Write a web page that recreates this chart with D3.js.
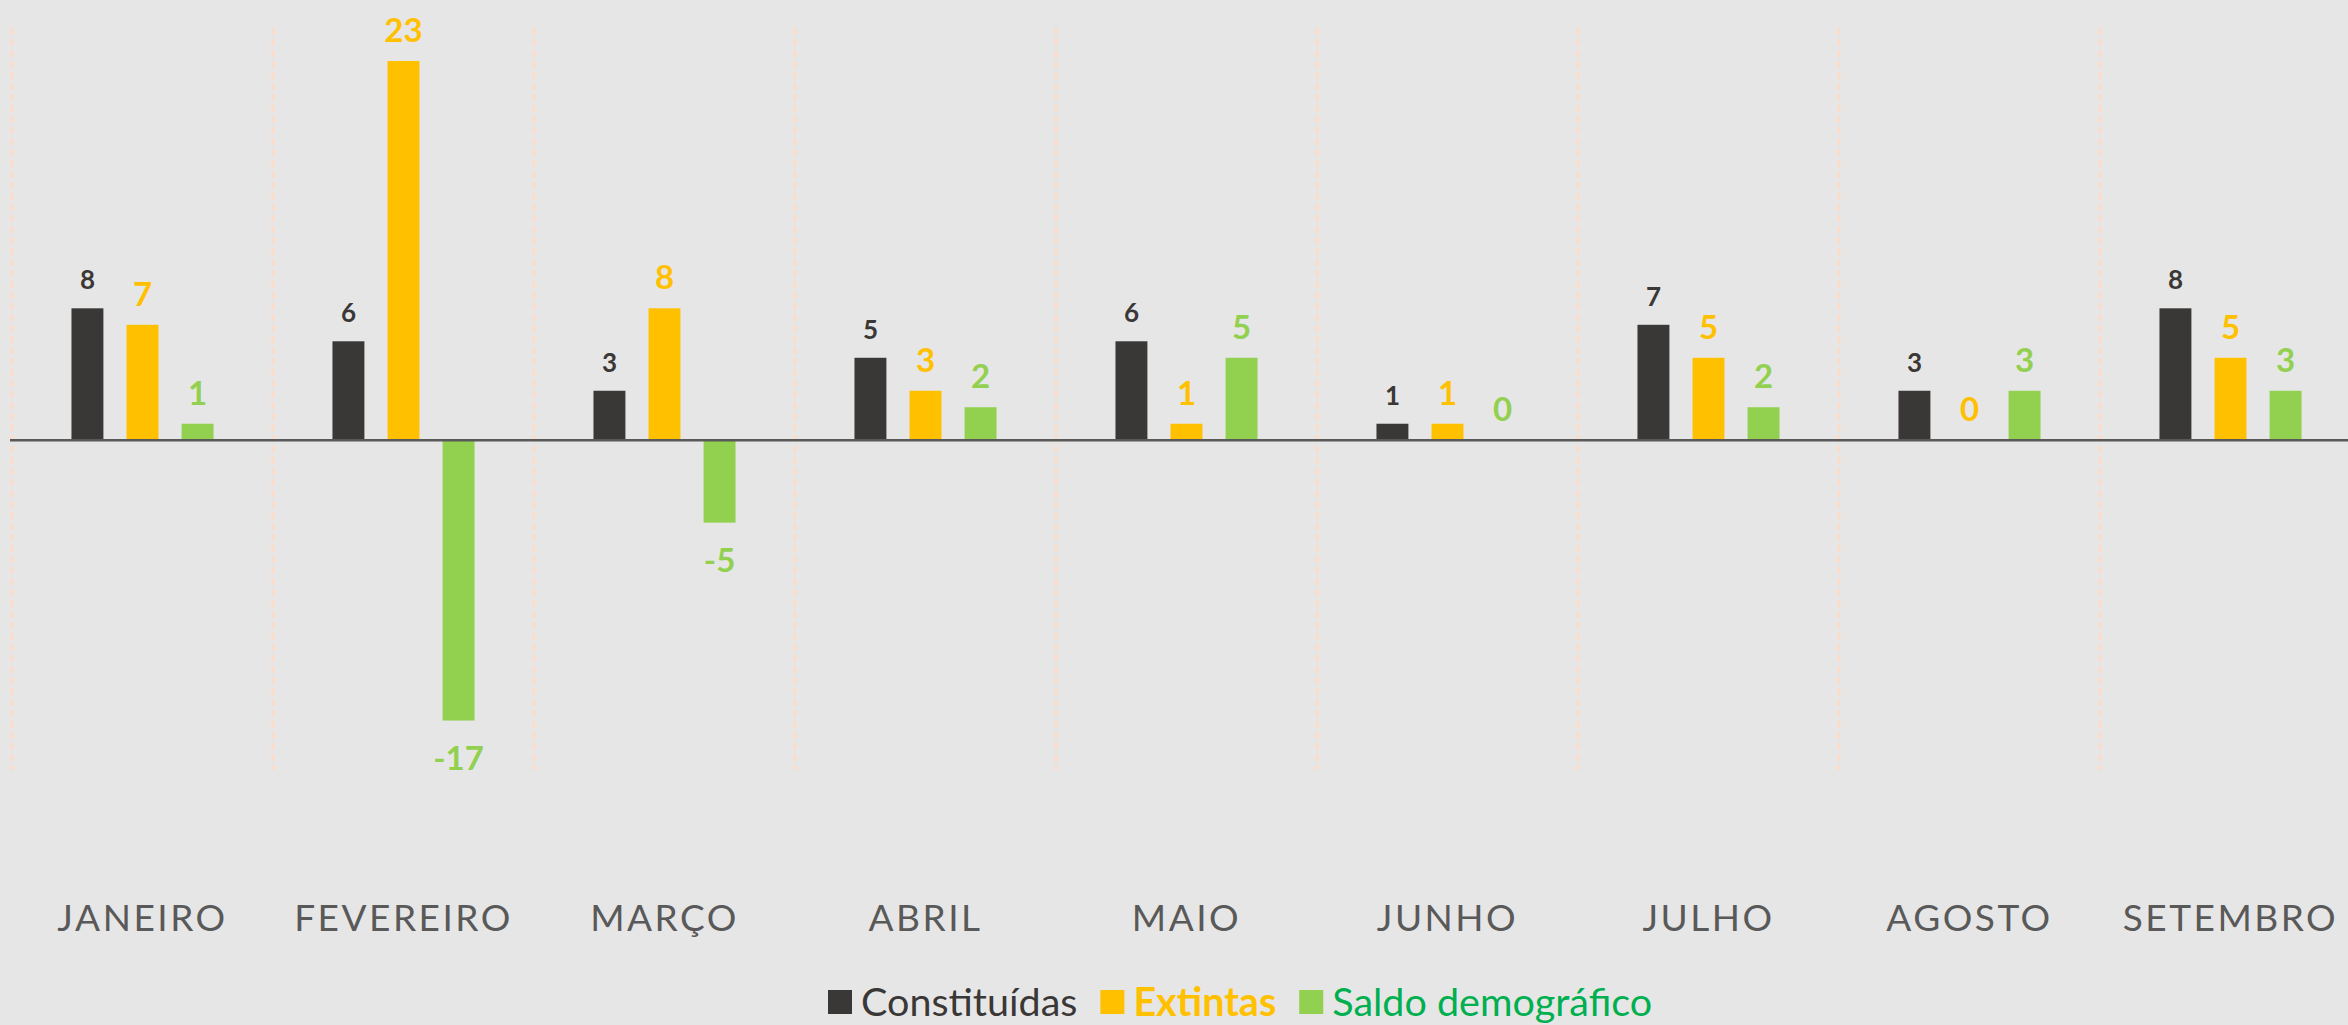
<!DOCTYPE html>
<html>
<head>
<meta charset="utf-8">
<script src="https://cdn.jsdelivr.net/npm/d3@7"></script>
<style>
  html, body { margin: 0; padding: 0; background: #e7e6e6; }
  svg { display: block; }
</style>
</head>
<body>
<svg id="chart"></svg>
<script>
const months = ['JANEIRO', 'FEVEREIRO', 'MARÇO', 'ABRIL', 'MAIO', 'JUNHO', 'JULHO', 'AGOSTO', 'SETEMBRO']
const seriesNames = ['Constituídas', 'Extintas', 'Saldo demográfico']
const constituidas = [8, 6, 3, 5, 6, 1, 7, 3, 8]
const extintas = [7, 23, 8, 3, 1, 1, 5, 0, 5]
const saldo = [1, -17, -5, 2, 5, 0, 2, 3, 3]
const yDomain = [-20, 25]

const width = 2348
const height = 1025
const svg = d3.select('#chart').attr('width', width).attr('height', height)

const colors = {
    'Constituídas': '#3a3836',
    'Extintas': '#ffc000',
    'Saldo demográfico': '#92d050'
}
const legendTextColors = {
    'Constituídas': '#3a3836',
    'Extintas': '#ffc000',
    'Saldo demográfico': '#00b050'
}

const values = [constituidas, extintas, saldo]

// plot area runs a bit past the right edge, like the original
const xScale = d3.scaleBand()
    .domain(months)
    .range([12, 12 + 261 * months.length])
    .paddingInner(0)
    .paddingOuter(0)

const xInner = d3.scaleBand()
    .domain(seriesNames)
    .range([0, xScale.bandwidth()])
    .paddingInner(0.42)
    .paddingOuter(1.08)

const yScale = d3.scaleLinear()
    .domain(yDomain)
    .range([770, 28])

// vertical dashed gridlines at category boundaries
svg.append('g')
    .selectAll('line')
    .data(months)
    .enter()
    .append('line')
    .attr('x1', d => xScale(d))
    .attr('x2', d => xScale(d))
    .attr('y1', yScale(yDomain[1]))
    .attr('y2', yScale(yDomain[0]))
    .attr('stroke', '#fbdcc8')
    .attr('stroke-width', 3)
    .attr('stroke-dasharray', '7,4')

// bars
const groups = svg.append('g')
    .selectAll('g')
    .data(seriesNames)
    .enter()
    .append('g')

groups.each(function(name, si) {
    const g = d3.select(this)
    const data = months.map((m, i) => ({month: m, value: values[si][i]}))
    g.selectAll('rect')
        .data(data)
        .enter()
        .append('rect')
        .attr('x', d => xScale(d.month) + xInner(name))
        .attr('width', xInner.bandwidth())
        .attr('y', d => yScale(Math.max(0, d.value)))
        .attr('height', d => Math.abs(yScale(d.value) - yScale(0)))
        .attr('fill', colors[name])

    g.selectAll('text')
        .data(data)
        .enter()
        .append('text')
        .attr('x', d => xScale(d.month) + xInner(name) + xInner.bandwidth() / 2)
        .attr('y', d => d.value < 0 ? yScale(d.value) + 23 : yScale(d.value) - 19)
        .attr('dominant-baseline', d => d.value < 0 ? 'hanging' : 'auto')
        .attr('text-anchor', 'middle')
        .attr('font-family', 'Lato, "Open Sans", sans-serif')
        .attr('font-weight', 'bold')
        .attr('font-size', si === 0 ? 26 : 33)
        .attr('fill', colors[name])
        .text(d => d.value)
})

// zero line
svg.append('line')
    .attr('x1', 10)
    .attr('x2', width)
    .attr('y1', yScale(0))
    .attr('y2', yScale(0))
    .attr('stroke', '#595959')
    .attr('stroke-width', 2.5)

// category axis labels
const xAxis = d3.axisBottom(xScale).tickSize(0).tickPadding(0)
const axisG = svg.append('g')
    .attr('transform', 'translate(0, 903)')
    .call(xAxis)
axisG.select('.domain').remove()
axisG.selectAll('text')
    .attr('dy', null)
    .attr('y', 28)
    .attr('font-family', 'Lato, "Open Sans", sans-serif')
    .attr('font-size', 37)
    .attr('font-weight', 400)
    .attr('letter-spacing', 2.5)
    .attr('fill', '#595959')

// legend
const legend = svg.append('g').attr('transform', 'translate(828, 1002)')
let lx = 0
seriesNames.forEach(name => {
    legend.append('rect')
        .attr('x', lx)
        .attr('y', -12)
        .attr('width', 24)
        .attr('height', 24)
        .attr('fill', colors[name])
    const t = legend.append('text')
        .attr('x', lx + 33)
        .attr('y', 14)
        .attr('font-family', 'Lato, "Open Sans", sans-serif')
        .attr('font-size', 39.5)
        .attr('font-weight', name === 'Extintas' ? 'bold' : 'normal')
        .attr('fill', legendTextColors[name])
        .text(name)
    lx += 33 + t.node().getComputedTextLength() + 23
})
</script>
</body>
</html>
